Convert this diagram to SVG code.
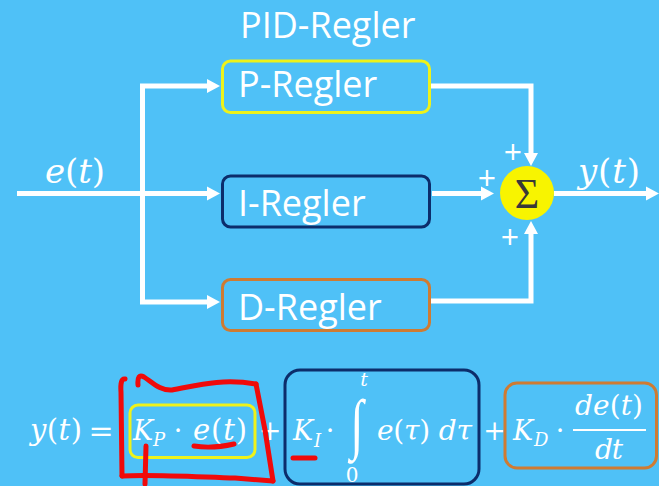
<svg xmlns="http://www.w3.org/2000/svg" width="659" height="486" viewBox="0 0 659 486">
<defs>
<style>
.lbl{font-family:"Open Sans","Noto Sans",sans-serif;fill:#ffffff}
.m{font-family:"DejaVu Serif","Liberation Serif",serif;font-style:italic;fill:#ffffff}
.u{font-style:normal}
.box{fill:#4fc1f7;stroke-width:3}
.wire{fill:none;stroke:#ffffff;stroke-width:5;stroke-linejoin:miter}
.red{fill:none;stroke:#f00a0a;stroke-width:5;stroke-linecap:round;stroke-linejoin:round}
</style>
<marker id="ah" markerUnits="userSpaceOnUse" markerWidth="14" markerHeight="15" refX="0" refY="7" orient="auto" viewBox="0 0 14 14">
<path d="M0,0 L13,7 L0,14 z" fill="#ffffff"/>
</marker>
</defs>
<rect x="0" y="0" width="659" height="486" fill="#4fc1f7"/>

<text id="title" class="lbl" x="240" y="38" font-size="36">PID-Regler</text>

<g id="connectors">
<path class="wire" d="M17,193.5 H207" marker-end="url(#ah)"/>
<path class="wire" d="M142.5,302.5 V86 H207" marker-end="url(#ah)"/>
<path class="wire" d="M142.5,300 V302 H207" marker-end="url(#ah)"/>
<path class="wire" d="M430,86 H531 V153" marker-end="url(#ah)"/>
<path class="wire" d="M432,193.5 H481" marker-end="url(#ah)"/>
<path class="wire" d="M430,301 H531 V234" marker-end="url(#ah)"/>
<path class="wire" d="M554,193.5 H646" marker-end="url(#ah)"/>
</g>

<g id="p-regler">
<rect class="box" x="222.5" y="61" width="207" height="51.5" rx="8" stroke="#eef21a"/>
<text class="lbl" x="238" y="97" font-size="36">P-Regler</text>
</g>
<g id="i-regler">
<rect class="box" x="222.5" y="176" width="207" height="51" rx="8" stroke="#0c2d6b"/>
<text class="lbl" x="238" y="216" font-size="36">I-Regler</text>
</g>
<g id="d-regler">
<rect class="box" x="222.5" y="279.5" width="207" height="51" rx="8" stroke="#cf7b32"/>
<text class="lbl" x="238" y="320" font-size="36">D-Regler</text>
</g>

<g id="sum">
<circle cx="527" cy="193" r="27" fill="#f8f400"/>
<text x="527" y="208" font-size="42" text-anchor="middle" font-family="Liberation Serif,serif" fill="#383838">Σ</text>
</g>

<g id="signs">
<text class="lbl" x="513" y="164" font-size="32" text-anchor="middle">+</text>
<text class="lbl" x="487" y="190" font-size="32" text-anchor="middle">+</text>
<text class="lbl" x="510" y="249" font-size="32" text-anchor="middle">+</text>
<text class="m" x="45" y="183" font-size="34" textLength="60">e<tspan class="u">(</tspan>t<tspan class="u">)</tspan></text>
<text class="m" x="578" y="183" font-size="34" textLength="62">y<tspan class="u">(</tspan>t<tspan class="u">)</tspan></text>
</g>

<g id="formula">
<text class="m" x="30" y="440" font-size="29" textLength="52">y<tspan class="u">(</tspan>t<tspan class="u">)</tspan></text>
<text class="m u" x="101" y="441" font-size="30" text-anchor="middle">=</text>
<rect class="box" x="130" y="405" width="125" height="52.5" rx="8" stroke="#eef21a"/>
<text class="m" x="133" y="440" font-size="27">K</text>
<text class="m" x="153" y="446" font-size="18">P</text>
<text class="m u" x="178" y="440" font-size="27" text-anchor="middle">·</text>
<text class="m" x="193" y="440" font-size="29" textLength="54">e<tspan class="u">(</tspan>t<tspan class="u">)</tspan></text>
<text class="m u" x="270" y="440" font-size="27" text-anchor="middle">+</text>
<rect class="box" x="285" y="370" width="194" height="114" rx="15" stroke="#0c2d6b"/>
<text class="m" x="293" y="440" font-size="27">K</text>
<text class="m" x="314" y="447" font-size="18">I</text>
<text class="m u" x="330" y="440" font-size="27" text-anchor="middle">·</text>
<text x="0" y="0" font-size="64" text-anchor="middle" style="font-family:'Liberation Serif',serif;font-style:normal;fill:#ffffff" transform="translate(357,446) scale(0.75,1.04)">∫</text>
<text class="m" x="364" y="386" font-size="19" text-anchor="middle">t</text>
<text class="m u" x="352" y="482" font-size="20" text-anchor="middle">0</text>
<text class="m" x="377" y="440" font-size="28" textLength="95">e<tspan class="u">(</tspan>τ<tspan class="u">)</tspan> dτ</text>
<text class="m u" x="494.5" y="440" font-size="27" text-anchor="middle">+</text>
<rect class="box" x="505" y="383" width="151.5" height="85" rx="12" stroke="#cf7b32"/>
<text class="m" x="513" y="440" font-size="27">K</text>
<text class="m" x="534" y="446" font-size="18">D</text>
<text class="m u" x="560" y="440" font-size="27" text-anchor="middle">·</text>
<line x1="573" y1="430" x2="646" y2="430" stroke="#ffffff" stroke-width="2"/>
<text class="m" x="575" y="415" font-size="28" textLength="68">de<tspan class="u">(</tspan>t<tspan class="u">)</tspan></text>
<text class="m" x="595" y="459" font-size="28" textLength="28">dt</text>
</g>

<g id="annotations">
<path class="red" d="M125,379 Q120,378 121,392 L122,476"/>
<path class="red" d="M122,476 C150,474 200,477 235,478 L273,481"/>
<path class="red" d="M273,481 L265,430 L256,384"/>
<path class="red" d="M138,385 Q137,373 144,377 C152,382 160,391 172,390 C195,386 220,378 256,384"/>
<path class="red" d="M146,446 L145,484"/>
<path class="red" d="M194,446 Q212,449 234,444"/>
<path class="red" d="M293,458 L315,458" stroke-width="5"/>
</g>
</svg>
